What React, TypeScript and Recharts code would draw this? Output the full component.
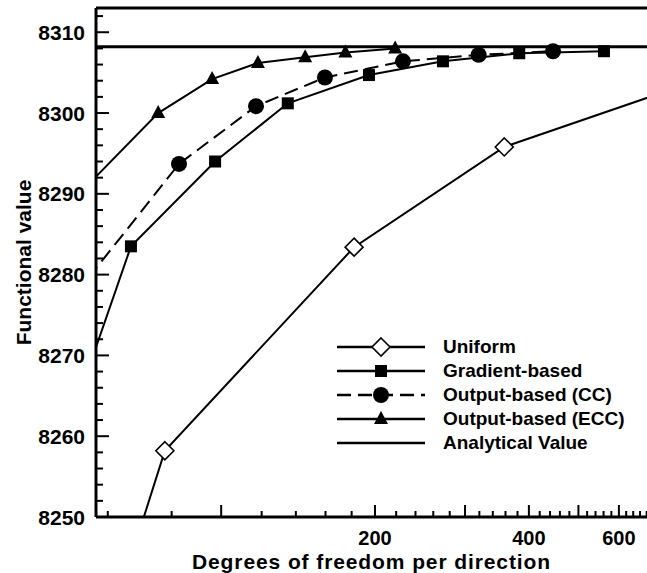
import { LineChart, Line, XAxis, YAxis, ReferenceLine } from "recharts"

const FONT = '"Liberation Sans", Arial, Helvetica, sans-serif'

// degrees of freedom per direction (x) and functional value (y) for each strategy
const uniformDof = [38, 77.6, 182, 358, 720]
const uniformVal = [8196.4, 8258.2, 8283.4, 8295.8, 8302.4]
const gradientDof = [45, 66.6, 97.3, 135, 194.6, 271.6, 383, 561]
const gradientVal = [8252.4, 8283.5, 8294.0, 8301.2, 8304.7, 8306.4, 8307.4, 8307.65]
const ccDof = [55, 82.7, 117, 159.6, 226.8, 319, 446]
const ccVal = [8279.6, 8293.7, 8300.85, 8304.4, 8306.4, 8307.2, 8307.65]
const eccDof = [50, 75.3, 96, 118, 146, 175, 219]
const eccVal = [8288.5, 8300.0, 8304.2, 8306.2, 8306.9, 8307.5, 8308.0]
const analyticalValue = 8308.2

const xTicks = [60, 80, 100, 120, 140, 160, 180, 200, 220, 240, 260, 280, 300, 320, 340, 360, 380, 400,
  420, 440, 460, 480, 500, 520, 540, 560, 580, 600, 620, 640, 660, 680]
const xTickLabels = [200, 400, 600]
const yTicks = [8250, 8252, 8254, 8256, 8258, 8260, 8262, 8264, 8266, 8268, 8270, 8272, 8274, 8276, 8278,
  8280, 8282, 8284, 8286, 8288, 8290, 8292, 8294, 8296, 8298, 8300, 8302, 8304, 8306, 8308, 8310, 8312]

const toPoints = (xs: number[], ys: number[]) => xs.map((x, i) => ({ x, y: ys[i] }))

type MarkerKind = "diamond" | "square" | "circle" | "triangle"

function Marker({ kind, cx, cy }: { kind: MarkerKind; cx: number; cy: number }) {
  if (kind === "diamond") {
    const r = 9
    return <polygon points={`${cx},${cy - r} ${cx + r},${cy} ${cx},${cy + r} ${cx - r},${cy}`} fill="#fff" stroke="#000" strokeWidth={1.6} />
  }
  if (kind === "square") {
    return <rect x={cx - 6} y={cy - 6} width={12} height={12} fill="#000" />
  }
  if (kind === "circle") {
    return <circle cx={cx} cy={cy} r={8} fill="#000" />
  }
  return <polygon points={`${cx},${cy - 8} ${cx + 7},${cy + 5} ${cx - 7},${cy + 5}`} fill="#000" />
}

const dotFor = (kind: MarkerKind) => (p: any) => {
  if (p.cx == null || p.cy == null) return <g key={p.index} />
  return <Marker key={p.index} kind={kind} cx={p.cx} cy={p.cy} />
}

const XTick = (props: any) => {
  const { x, y, payload } = props
  const v = payload.value
  const major = v % 100 === 0
  return (
    <g>
      <line x1={x} y1={y} x2={x} y2={y - (major ? 12 : 6)} stroke="#000" strokeWidth={2} />
      {xTickLabels.includes(v) && (
        <text x={x} y={y + 21} textAnchor="middle" dominantBaseline="central" fontFamily={FONT} fontWeight="bold" fontSize={20} fill="#000">
          {v}
        </text>
      )}
    </g>
  )
}

const YTick = (props: any) => {
  const { x, y, payload } = props
  const v = payload.value
  const major = v % 10 === 0
  return (
    <g>
      <line x1={x} y1={y} x2={x + (major ? 13 : 7)} y2={y} stroke="#000" strokeWidth={2} />
      {major && (
        <text x={x - 11} y={y} textAnchor="end" dominantBaseline="central" fontFamily={FONT} fontWeight="bold" fontSize={21} fill="#000">
          {v}
        </text>
      )}
    </g>
  )
}

const legendItems: { name: string; kind: MarkerKind | null; dash?: string }[] = [
  { name: "Uniform", kind: "diamond" },
  { name: "Gradient-based", kind: "square" },
  { name: "Output-based (CC)", kind: "circle", dash: "14 7" },
  { name: "Output-based (ECC)", kind: "triangle" },
  { name: "Analytical Value", kind: null },
]

function ChartLegend() {
  return (
    <div style={{ position: "absolute", left: 337, top: 335 }}>
      {legendItems.map((item) => (
        <div key={item.name} style={{ display: "flex", alignItems: "center", height: 24 }}>
          <svg width={88} height={24}>
            <line x1={0} y1={12} x2={88} y2={12} stroke="#000" strokeWidth={2.5} strokeDasharray={item.dash} />
            {item.kind && <Marker kind={item.kind} cx={44} cy={12} />}
          </svg>
          <span style={{ marginLeft: 18, fontFamily: FONT, fontWeight: "bold", fontSize: 19, color: "#000", whiteSpace: "nowrap" }}>
            {item.name}
          </span>
        </div>
      ))}
    </div>
  )
}

export default function App() {
  return (
    <div style={{ position: "absolute", left: 0, top: 0, width: 647, height: 573, background: "#fff" }}>
      <LineChart width={647} height={573} margin={{ top: 8, right: 0, bottom: 0, left: 0 }}>
        <XAxis
          type="number"
          dataKey="x"
          scale="log"
          domain={[56.9, 681]}
          allowDataOverflow
          ticks={xTicks}
          interval={0}
          tickSize={0}
          tickMargin={0}
          tickLine={false}
          tick={XTick}
          height={56}
          axisLine={{ stroke: "#000", strokeWidth: 3 }}
          label={{
            content: (p: any) => (
              <text x={p.viewBox.x + p.viewBox.width / 2} y={p.viewBox.y + 44} textAnchor="middle" dominantBaseline="central"
                fontFamily={FONT} fontWeight="bold" fontSize={21} letterSpacing={0.9} fill="#000">
                Degrees of freedom per direction
              </text>
            ),
          }}
        />
        <YAxis
          type="number"
          domain={[8250, 8313]}
          allowDataOverflow
          ticks={yTicks}
          interval={0}
          tickSize={0}
          tickMargin={0}
          tickLine={false}
          tick={YTick}
          width={96}
          axisLine={{ stroke: "#000", strokeWidth: 3 }}
          label={{
            content: (p: any) => {
              const cx = p.viewBox.x + 23
              const cy = p.viewBox.y + p.viewBox.height / 2
              return (
                <text x={cx} y={cy} transform={`rotate(-90 ${cx} ${cy})`} textAnchor="middle" dominantBaseline="central"
                  fontFamily={FONT} fontWeight="bold" fontSize={21} fill="#000">
                  Functional value
                </text>
              )
            },
          }}
        />
        <ReferenceLine y={8313} stroke="#000" strokeWidth={3} />
        <ReferenceLine y={analyticalValue} stroke="#000" strokeWidth={3} />
        <Line data={toPoints(uniformDof, uniformVal)} dataKey="y" type="linear" stroke="#000" strokeWidth={2} dot={dotFor("diamond")} isAnimationActive={false} />
        <Line data={toPoints(gradientDof, gradientVal)} dataKey="y" type="linear" stroke="#000" strokeWidth={2} dot={dotFor("square")} isAnimationActive={false} />
        <Line data={toPoints(ccDof, ccVal)} dataKey="y" type="linear" stroke="#000" strokeWidth={2} strokeDasharray="14 7" dot={dotFor("circle")} isAnimationActive={false} />
        <Line data={toPoints(eccDof, eccVal)} dataKey="y" type="linear" stroke="#000" strokeWidth={2} dot={dotFor("triangle")} isAnimationActive={false} />
      </LineChart>
      <ChartLegend />
    </div>
  )
}
